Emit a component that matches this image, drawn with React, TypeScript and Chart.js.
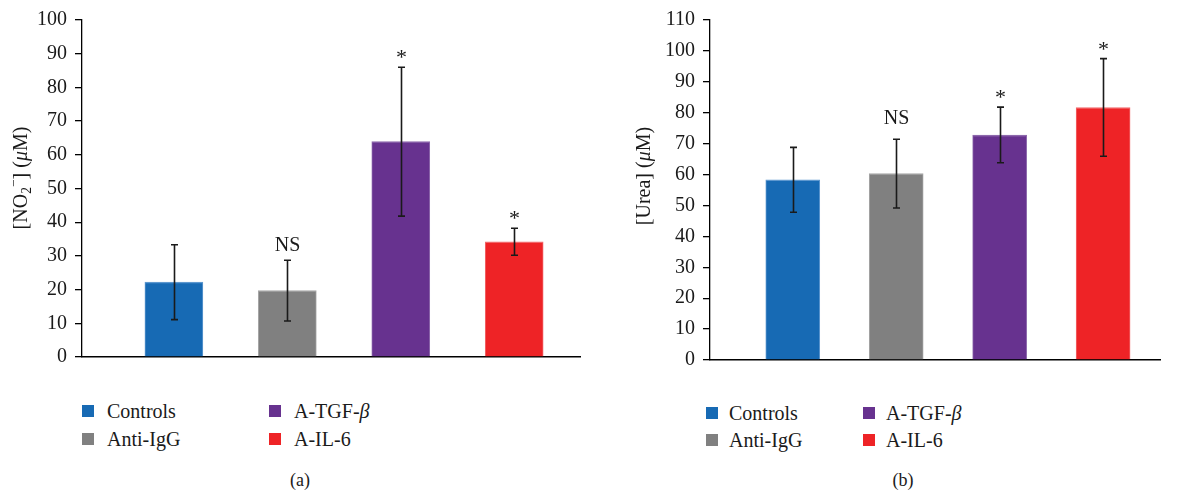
import React, { useEffect, useRef } from 'react';
import { Chart, registerables } from 'chart.js';

Chart.register(...registerables);

// ---------- data ----------
const categories = ['Controls', 'Anti-IgG', 'A-TGF-β', 'A-IL-6'];
const barColors = ['#176AB4', '#808080', '#67328F', '#EE2326'];
const barEdgeColors = ['#5E98CF', '#A6A6A6', '#8D68AC', '#F2676A'];

const no2Values = [22.2, 19.7, 63.9, 34.2];
const no2Errors = [11.1, 9.0, 22.1, 4.0];
const no2Marks = ['', 'NS', '*', '*'];
const no2TickStep = 10;
const no2Max = 100;

const ureaValues = [58.3, 60.3, 72.8, 81.7];
const ureaErrors = [10.5, 11.1, 9.0, 15.8];
const ureaMarks = ['', 'NS', '*', '*'];
const ureaTickStep = 10;
const ureaMax = 110;

const FONT = '"Liberation Serif", "Times New Roman", serif';
const INK = '#1a1a1a';

type Seg = { t: string; sub?: boolean; sup?: boolean; italic?: boolean };
const no2Title: Seg[] = [
  { t: '[NO' },
  { t: '2', sub: true },
  { t: '−', sup: true },
  { t: '] (' },
  { t: 'μ', italic: true },
  { t: 'M)' },
];
const ureaTitle: Seg[] = [{ t: '[Urea] (' }, { t: 'μ', italic: true }, { t: 'M)' }];

type PanelCfg = {
  values: number[];
  errors: number[];
  marks: string[];
  max: number;
  step: number;
  title: Seg[];
  width: number;
  height: number;
  padding: { left: number; right: number; top: number; bottom: number };
  yWidth: number;
  xMin: number;
  xMax: number;
  barThickness: number;
  titleX: number;
  titleY: number;
  nsOffset: number;
};

function fontStr(size: number, italic?: boolean) {
  return `${italic ? 'italic ' : ''}${size}px ${FONT}`;
}

function drawRichTitle(ctx: CanvasRenderingContext2D, segs: Seg[], cx: number, cy: number, size: number) {
  const small = size * 0.68;
  let total = 0;
  const widths = segs.map((s) => {
    ctx.font = fontStr(s.sub || s.sup ? small : size, s.italic);
    const w = ctx.measureText(s.t).width;
    total += w;
    return w;
  });
  ctx.save();
  ctx.translate(cx, cy);
  ctx.rotate(-Math.PI / 2);
  ctx.fillStyle = INK;
  ctx.textBaseline = 'alphabetic';
  ctx.textAlign = 'left';
  let x = -total / 2;
  const base = size * 0.33;
  segs.forEach((s, i) => {
    ctx.font = fontStr(s.sub || s.sup ? small : size, s.italic);
    let y = base;
    if (s.sub) y += size * 0.22;
    if (s.sup) y -= size * 0.42;
    ctx.fillText(s.t, x, y);
    x += widths[i];
  });
  ctx.restore();
}

function makeConfig(cfg: PanelCfg): any {
  const overlay = {
    id: 'overlay',
    afterDatasetsDraw(chart: any) {
      const ctx: CanvasRenderingContext2D = chart.ctx;
      const yScale = chart.scales.y;
      const meta = chart.getDatasetMeta(0);
      ctx.save();
      ctx.strokeStyle = INK;
      ctx.lineWidth = 1.6;
      meta.data.forEach((bar: any, i: number) => {
        const v = cfg.values[i];
        const e = cfg.errors[i];
        const x = Math.round(bar.x) + 0.5;
        const yT = yScale.getPixelForValue(v + e);
        const yB = yScale.getPixelForValue(v - e);
        ctx.beginPath();
        ctx.moveTo(x, yT);
        ctx.lineTo(x, yB);
        ctx.moveTo(x - 3.5, yT);
        ctx.lineTo(x + 3.5, yT);
        ctx.moveTo(x - 3.5, yB);
        ctx.lineTo(x + 3.5, yB);
        ctx.stroke();
        const m = cfg.marks[i];
        if (m) {
          ctx.fillStyle = INK;
          ctx.textAlign = 'center';
          ctx.textBaseline = 'alphabetic';
          ctx.font = fontStr(m === '*' ? 22 : 20);
          const off = m === '*' ? 3 : cfg.nsOffset;
          ctx.fillText(m, x, yT - off);
        }
      });
      ctx.restore();
    },
    afterDraw(chart: any) {
      drawRichTitle(chart.ctx, cfg.title, cfg.titleX, cfg.titleY, 20);
    },
  };

  return {
    type: 'bar',
    data: {
      datasets: [
        {
          data: cfg.values.map((v, i) => ({ x: i + 1, y: v })),
          backgroundColor: barColors,
          borderColor: barEdgeColors,
          borderWidth: { top: 1.5, left: 1, right: 1, bottom: 0 },
          barThickness: cfg.barThickness,
        },
      ],
    },
    options: {
      animation: false,
      responsive: false,
      maintainAspectRatio: false,
      layout: { padding: cfg.padding },
      plugins: { legend: { display: false }, tooltip: { enabled: false } },
      scales: {
        x: {
          type: 'linear',
          min: cfg.xMin,
          max: cfg.xMax,
          offset: false,
          ticks: { display: false },
          grid: { display: false, drawTicks: false },
          border: { display: true, color: '#000', width: 1.6 },
          afterFit: (s: any) => {
            s.height = 0;
          },
        },
        y: {
          min: 0,
          max: cfg.max,
          ticks: {
            stepSize: cfg.step,
            color: INK,
            font: { family: FONT, size: 20 },
            padding: 8,
          },
          grid: { drawOnChartArea: false, drawTicks: true, tickLength: 7, color: '#000', lineWidth: 1.3 },
          border: { display: true, color: '#000', width: 1.3 },
          afterFit: (s: any) => {
            s.width = cfg.yWidth;
          },
        },
      },
    },
    plugins: [overlay],
  };
}

function Panel({ cfg, left }: { cfg: PanelCfg; left: number }) {
  const ref = useRef<HTMLCanvasElement>(null);
  useEffect(() => {
    if (!ref.current) return;
    const chart = new Chart(ref.current, makeConfig(cfg));
    return () => chart.destroy();
  }, []);
  return (
    <canvas
      ref={ref}
      width={cfg.width}
      height={cfg.height}
      style={{ position: 'absolute', left, top: 0, width: cfg.width, height: cfg.height }}
    />
  );
}

type LegendPos = {
  colX: number[];
  rowY: number[];
  gap: number;
};

function Legend({ pos }: { pos: LegendPos }) {
  // column-major: col 0 -> items 0,1 ; col 1 -> items 2,3
  return (
    <>
      {categories.map((c, i) => {
        const col = Math.floor(i / 2);
        const row = i % 2;
        const isBeta = c.endsWith('β');
        return (
          <div
            key={c}
            style={{
              position: 'absolute',
              left: pos.colX[col],
              top: pos.rowY[row] - 12,
              height: 24,
              display: 'flex',
              alignItems: 'center',
              whiteSpace: 'nowrap',
              font: `20px ${FONT}`,
              color: INK,
            }}
          >
            <span
              style={{
                display: 'inline-block',
                width: 12,
                height: 12,
                background: barColors[i],
                marginRight: pos.gap,
              }}
            />
            {isBeta ? (
              <span>
                {c.slice(0, -1)}
                <i>β</i>
              </span>
            ) : (
              <span>{c}</span>
            )}
          </div>
        );
      })}
    </>
  );
}

const leftCfg: PanelCfg = {
  values: no2Values,
  errors: no2Errors,
  marks: no2Marks,
  max: no2Max,
  step: no2TickStep,
  title: no2Title,
  width: 590,
  height: 380,
  padding: { left: 0, right: 10, top: 15, bottom: 23 },
  yWidth: 82,
  xMin: 0.19,
  xMax: 4.58,
  barThickness: 58,
  titleX: 20,
  titleY: 178,
  nsOffset: 9,
};

const rightCfg: PanelCfg = {
  values: ureaValues,
  errors: ureaErrors,
  marks: ureaMarks,
  max: ureaMax,
  step: ureaTickStep,
  title: ureaTitle,
  width: 591,
  height: 380,
  padding: { left: 0, right: 21, top: 19, bottom: 19 },
  yWidth: 120,
  xMin: 0.2,
  xMax: 4.55,
  barThickness: 54,
  titleX: 53,
  titleY: 176,
  nsOffset: 15,
};

export default function App() {
  useEffect(() => {
    document.body.style.margin = '0';
  }, []);
  return (
    <div style={{ position: 'relative', width: 1181, height: 494, background: '#fff', overflow: 'hidden' }}>
      <Panel cfg={leftCfg} left={0} />
      <Panel cfg={rightCfg} left={590} />
      <Legend pos={{ colX: [82, 269], rowY: [411, 439], gap: 13 }} />
      <Legend pos={{ colX: [706, 863], rowY: [413, 440], gap: 11 }} />
      <div style={{ position: 'absolute', left: 270, width: 60, top: 470, textAlign: 'center', font: `18px ${FONT}`, color: INK }}>
        (a)
      </div>
      <div style={{ position: 'absolute', left: 873, width: 60, top: 470, textAlign: 'center', font: `18px ${FONT}`, color: INK }}>
        (b)
      </div>
    </div>
  );
}
